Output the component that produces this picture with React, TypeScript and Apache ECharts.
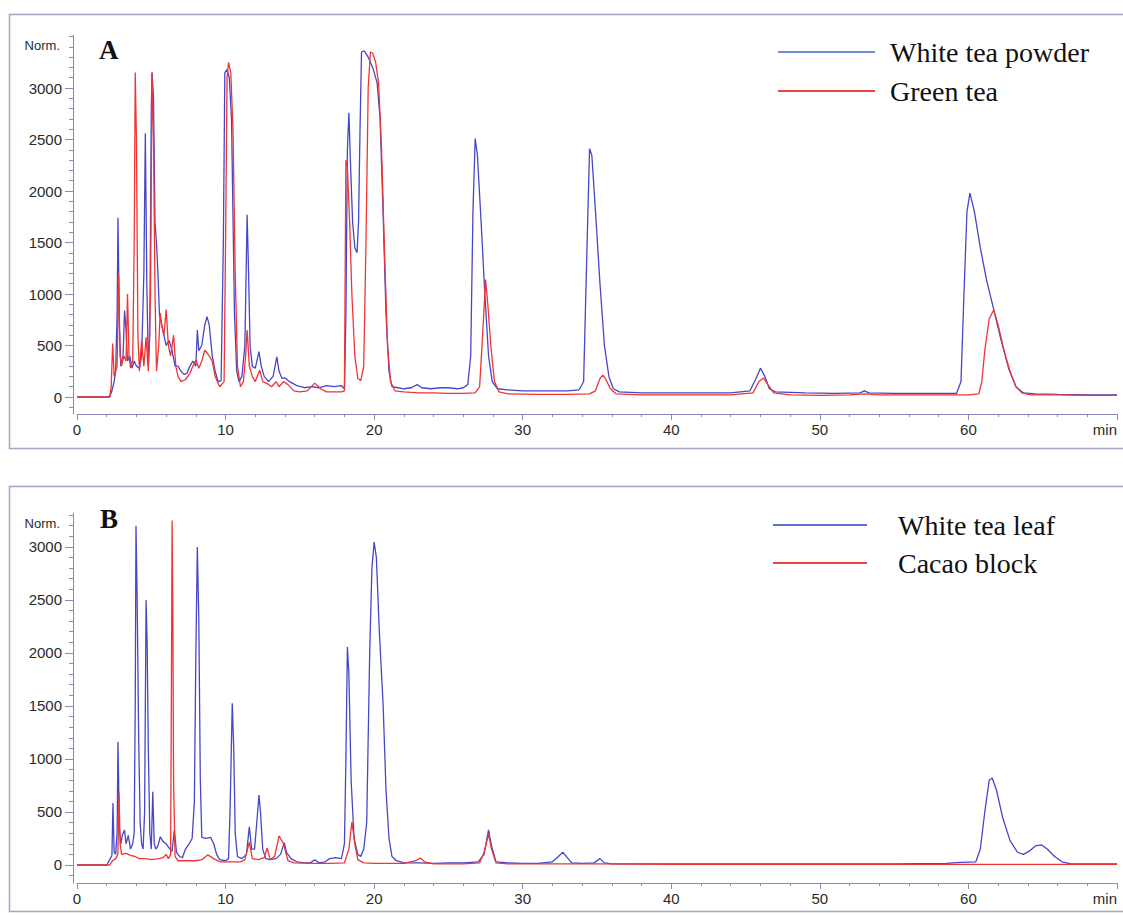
import React, { useEffect, useRef } from "react";
import * as echarts from "echarts";

// Retention time (min) / normalised detector response pairs for each trace.
const whiteTeaPowder: [number, number][] = [
  [0, 0], [2.2, 0], [2.35, 60], [2.5, 150], [2.6, 250], [2.7, 800], [2.76, 1740], [2.85, 700], [2.95, 300],
  [3.1, 400], [3.2, 840], [3.3, 650], [3.4, 350], [3.55, 400], [3.7, 280], [3.85, 350], [4.0, 300], [4.2, 280],
  [4.35, 400], [4.5, 1200], [4.6, 2560], [4.7, 1100], [4.8, 300], [4.9, 600], [5.0, 2800], [5.05, 3150],
  [5.15, 2900], [5.25, 1700], [5.35, 1500], [5.45, 1200], [5.55, 800], [5.7, 700], [5.85, 600], [6.0, 500],
  [6.2, 550], [6.4, 450], [6.6, 300], [6.8, 300], [7.0, 250], [7.2, 220], [7.4, 230], [7.6, 300], [7.8, 350],
  [8.0, 300], [8.1, 650], [8.2, 450], [8.4, 500], [8.6, 700], [8.75, 780], [8.9, 700], [9.1, 400], [9.3, 250],
  [9.5, 150], [9.7, 160], [9.85, 1500], [9.95, 3150], [10.1, 3180], [10.25, 3100], [10.4, 2700], [10.6, 800],
  [10.75, 250], [10.9, 150], [11.1, 200], [11.3, 500], [11.45, 1770], [11.55, 1200], [11.65, 500], [11.8, 300],
  [12.0, 280], [12.25, 440], [12.4, 300], [12.6, 200], [12.9, 150], [13.2, 200], [13.45, 390], [13.6, 250],
  [13.8, 180], [14.0, 185], [14.3, 150], [14.8, 110], [15.3, 90], [15.8, 100], [16.3, 90], [16.8, 110],
  [17.3, 100], [17.8, 110], [18.0, 80], [18.1, 800], [18.2, 2400], [18.3, 2760], [18.4, 2300], [18.55, 1700],
  [18.7, 1450], [18.85, 1400], [18.95, 1700], [19.05, 2600], [19.15, 3350], [19.35, 3360], [19.6, 3300],
  [19.9, 3200], [20.2, 3050], [20.4, 2700], [20.6, 1800], [20.8, 800], [21.0, 250], [21.2, 100], [21.6, 90],
  [22.0, 80], [22.5, 90], [22.9, 120], [23.2, 90], [23.8, 80], [24.5, 90], [25.0, 90], [25.6, 80], [26.0, 90],
  [26.3, 120], [26.5, 400], [26.65, 1800], [26.8, 2510], [26.95, 2350], [27.2, 1700], [27.45, 1000],
  [27.7, 400], [27.95, 150], [28.3, 80], [29, 70], [30, 60], [31, 60], [32, 60], [33, 60], [33.8, 70],
  [34.1, 150], [34.3, 1300], [34.5, 2410], [34.65, 2350], [34.9, 1800], [35.2, 1100], [35.5, 500], [35.8, 200],
  [36.1, 80], [36.5, 50], [38, 40], [40, 40], [42, 40], [44, 40], [45.3, 60], [45.7, 180], [46.0, 280],
  [46.3, 200], [46.6, 80], [47, 50], [49, 40], [51, 35], [52.7, 40], [53, 60], [53.3, 40], [55, 35], [57, 35],
  [59.2, 35], [59.5, 150], [59.7, 1000], [59.9, 1800], [60.1, 1980], [60.4, 1800], [60.8, 1450], [61.2, 1150],
  [61.7, 850], [62.2, 550], [62.7, 280], [63.2, 100], [63.7, 40], [64.5, 30], [66, 25], [68, 20], [70, 20],
];

const greenTea: [number, number][] = [
  [0, 0], [2.2, 0], [2.3, 100], [2.4, 520], [2.5, 200], [2.6, 250], [2.7, 300], [2.8, 1200], [2.9, 400],
  [3.0, 300], [3.15, 400], [3.3, 350], [3.4, 1000], [3.5, 400], [3.6, 280], [3.75, 350], [3.85, 1500],
  [3.92, 3150], [4.0, 2500], [4.1, 600], [4.2, 250], [4.35, 550], [4.5, 300], [4.65, 580], [4.8, 250],
  [4.95, 1000], [5.05, 3150], [5.15, 2500], [5.25, 1000], [5.35, 250], [5.5, 500], [5.6, 815], [5.7, 700],
  [5.85, 600], [6.0, 850], [6.15, 500], [6.3, 400], [6.5, 600], [6.65, 300], [6.8, 200], [7.0, 150],
  [7.3, 170], [7.6, 230], [7.8, 300], [8.0, 360], [8.2, 280], [8.4, 350], [8.6, 455], [8.8, 420], [9.1, 350],
  [9.3, 200], [9.6, 100], [9.9, 150], [10.0, 1500], [10.1, 3100], [10.2, 3250], [10.35, 3150], [10.5, 2600],
  [10.65, 1200], [10.8, 300], [11.0, 100], [11.2, 150], [11.35, 400], [11.45, 650], [11.6, 300], [11.8, 200],
  [12.0, 150], [12.3, 260], [12.5, 150], [12.8, 130], [13.1, 100], [13.4, 150], [13.6, 100], [13.9, 150],
  [14.2, 120], [14.6, 60], [15.0, 50], [15.5, 60], [16.0, 135], [16.4, 80], [16.8, 50], [17.3, 50],
  [17.8, 50], [18.0, 60], [18.05, 1200], [18.1, 2300], [18.2, 2230], [18.35, 1700], [18.5, 1000], [18.7, 400],
  [18.9, 180], [19.1, 160], [19.3, 300], [19.45, 1500], [19.6, 3000], [19.75, 3350], [19.9, 3340],
  [20.1, 3250], [20.3, 3050], [20.5, 2400], [20.7, 1400], [20.9, 500], [21.1, 150], [21.4, 60], [22, 50],
  [23, 40], [24, 40], [25, 35], [26, 35], [26.8, 40], [27.1, 100], [27.3, 600], [27.5, 1140], [27.65, 900],
  [27.85, 500], [28.1, 150], [28.4, 50], [29, 30], [31, 25], [33, 25], [34.5, 30], [34.9, 60], [35.2, 180],
  [35.4, 213], [35.6, 170], [35.9, 80], [36.3, 30], [38, 20], [40, 20], [42, 20], [44, 20], [45.5, 40],
  [45.9, 150], [46.2, 185], [46.5, 120], [46.9, 40], [48, 20], [50, 15], [52, 20], [53, 30], [54, 20],
  [57, 20], [60, 20], [60.7, 30], [60.9, 150], [61.1, 450], [61.4, 760], [61.7, 845], [62.0, 700],
  [62.4, 450], [62.8, 250], [63.2, 100], [63.6, 40], [64.2, 20], [66, 20], [68, 15], [70, 15],
];

const whiteTeaLeaf: [number, number][] = [
  [0, 0], [2.0, 0], [2.2, 50], [2.35, 90], [2.42, 585], [2.5, 120], [2.6, 100], [2.7, 300], [2.76, 1160],
  [2.85, 350], [2.95, 200], [3.05, 280], [3.2, 330], [3.3, 200], [3.45, 280], [3.6, 150], [3.75, 200],
  [3.85, 300], [3.92, 1500], [3.97, 3200], [4.05, 2500], [4.15, 1200], [4.25, 400], [4.35, 200], [4.45, 150],
  [4.55, 500], [4.65, 2500], [4.72, 2100], [4.8, 1100], [4.9, 300], [5.0, 150], [5.1, 690], [5.2, 200],
  [5.3, 150], [5.45, 180], [5.6, 265], [5.8, 220], [6.0, 200], [6.2, 160], [6.4, 130], [6.55, 330],
  [6.7, 120], [6.9, 80], [7.1, 70], [7.3, 150], [7.55, 200], [7.75, 250], [7.9, 600], [8.0, 2000],
  [8.1, 3000], [8.2, 2300], [8.3, 800], [8.4, 260], [8.7, 250], [9.0, 260], [9.2, 200], [9.4, 100],
  [9.6, 50], [10.0, 40], [10.2, 60], [10.3, 500], [10.45, 1525], [10.55, 1100], [10.65, 300], [10.8, 80],
  [11.1, 60], [11.4, 100], [11.6, 360], [11.75, 150], [11.95, 150], [12.1, 400], [12.25, 660], [12.35, 500],
  [12.5, 150], [12.7, 60], [13.0, 50], [13.4, 60], [13.7, 100], [13.95, 210], [14.1, 120], [14.4, 60],
  [14.8, 30], [15.3, 20], [15.7, 20], [16.0, 50], [16.3, 20], [16.7, 30], [17.0, 60], [17.4, 70],
  [17.8, 60], [18.0, 200], [18.1, 1000], [18.2, 2055], [18.3, 1800], [18.45, 800], [18.65, 250], [18.9, 100],
  [19.1, 80], [19.3, 150], [19.5, 400], [19.7, 2000], [19.85, 2800], [20.0, 3045], [20.15, 2900],
  [20.35, 2200], [20.6, 1525], [20.8, 700], [21.0, 250], [21.2, 80], [21.5, 40], [22, 20], [23, 20],
  [24, 15], [25, 20], [26, 20], [27, 30], [27.4, 100], [27.7, 330], [27.9, 180], [28.2, 30], [29, 20],
  [30, 15], [31, 15], [32, 30], [32.4, 80], [32.7, 120], [33.0, 70], [33.3, 20], [34, 15], [34.8, 20],
  [35.2, 60], [35.5, 20], [36, 10], [40, 10], [45, 10], [50, 10], [55, 10], [58.5, 15], [59.5, 25],
  [60.5, 30], [60.8, 150], [61.1, 500], [61.4, 800], [61.6, 820], [61.9, 700], [62.3, 450], [62.8, 230],
  [63.3, 120], [63.7, 100], [64.1, 130], [64.5, 180], [64.9, 190], [65.3, 150], [65.8, 80], [66.3, 30],
  [66.9, 10], [68, 10], [70, 10],
];

const cacaoBlock: [number, number][] = [
  [0, 0], [2.2, 0], [2.4, 40], [2.6, 60], [2.75, 100], [2.83, 680], [2.9, 200], [3.0, 100], [3.3, 110],
  [3.6, 90], [3.9, 80], [4.2, 60], [4.6, 60], [5.0, 50], [5.5, 60], [5.8, 70], [6.0, 100], [6.15, 60],
  [6.3, 100], [6.35, 1500], [6.4, 3250], [6.45, 2400], [6.5, 800], [6.6, 80], [6.8, 40], [7.2, 40],
  [7.6, 40], [8.0, 40], [8.4, 50], [8.8, 95], [9.2, 60], [9.6, 30], [10.0, 30], [10.5, 30], [11.0, 30],
  [11.3, 50], [11.6, 215], [11.8, 60], [12.2, 50], [12.6, 70], [12.8, 160], [13.0, 50], [13.3, 80],
  [13.6, 275], [13.9, 200], [14.2, 40], [14.6, 20], [16, 15], [17, 15], [18.0, 20], [18.3, 150],
  [18.5, 405], [18.7, 200], [18.9, 50], [19.3, 20], [20, 15], [21, 15], [22, 15], [22.8, 40], [23.1, 65],
  [23.4, 30], [24, 10], [26, 10], [27.1, 20], [27.4, 120], [27.7, 290], [27.9, 150], [28.2, 20], [29, 10],
  [35, 10], [40, 5], [50, 5], [60, 5], [70, 5],
];

// Tick positions on the response axes.
const majorTicks = [0, 500, 1000, 1500, 2000, 2500, 3000];
const minorTicksA = [-100, 0, 100, 200, 300, 400, 500, 600, 700, 800, 900, 1000, 1100, 1200, 1300, 1400, 1500,
  1600, 1700, 1800, 1900, 2000, 2100, 2200, 2300, 2400, 2500, 2600, 2700, 2800, 2900, 3000, 3100, 3200, 3300, 3400, 3500];
const minorTicksB = [-100, 0, 100, 200, 300, 400, 500, 600, 700, 800, 900, 1000, 1100, 1200, 1300, 1400, 1500,
  1600, 1700, 1800, 1900, 2000, 2100, 2200, 2300, 2400, 2500, 2600, 2700, 2800, 2900, 3000, 3100, 3200, 3300];

const BLUE = "#4646c8";
const RED = "#f03434";
const AXIS = "#8a8ab8";
const SANS = "Liberation Sans, Arial, sans-serif";
const SERIF = "Liberation Serif, Times New Roman, serif";
const PLOT_WIDTH = 1040; // width of each plotting area (grid left 77, right 6)

function xAxisFor(gridIndex: number) {
  return {
    type: "value",
    gridIndex,
    min: 0,
    max: 70,
    interval: 10,
    axisLine: { show: true, onZero: false, lineStyle: { color: AXIS, width: 1 } },
    axisTick: { show: true, length: 6, lineStyle: { color: AXIS } },
    minorTick: { show: true, splitNumber: 5, length: 3, lineStyle: { color: AXIS } },
    splitLine: { show: false },
    axisLabel: {
      fontFamily: SANS,
      fontSize: 15,
      color: "#2a2a2a",
      margin: 8,
      alignMaxLabel: "right",
      formatter: (v: number) => (v === 70 ? "min" : String(v)),
    },
  };
}

function yMain(gridIndex: number, min: number, max: number) {
  return {
    type: "value",
    gridIndex,
    min,
    max,
    position: "left",
    offset: 4,
    name: "Norm.",
    nameLocation: "end",
    nameGap: -10,
    nameTextStyle: { fontFamily: SANS, fontSize: 13, color: "#2a2a2a", align: "right", verticalAlign: "middle", padding: [0, 13, 0, 0] },
    axisLine: { show: true, onZero: false, lineStyle: { color: AXIS, width: 1 } },
    axisTick: { show: true, length: 8, customValues: majorTicks, lineStyle: { color: AXIS } },
    axisLabel: { fontFamily: SANS, fontSize: 15, color: "#2a2a2a", margin: 11, customValues: majorTicks, formatter: (v: number) => String(v) },
    splitLine: { show: false },
  };
}

// Companion axis carrying the short 100-unit ticks; it sits on the right slot of
// the grid and is shifted back onto the left axis line.
function yMinor(gridIndex: number, min: number, max: number, ticks: number[]) {
  return {
    type: "value",
    gridIndex,
    min,
    max,
    position: "right",
    offset: -(PLOT_WIDTH + 4),
    axisLine: { show: false, onZero: false },
    axisTick: { show: true, inside: true, length: 4, customValues: ticks, lineStyle: { color: AXIS } },
    axisLabel: { show: false },
    splitLine: { show: false },
  };
}

function trace(name: string, data: [number, number][], color: string, xi: number, yi: number) {
  return {
    name,
    type: "line",
    data,
    xAxisIndex: xi,
    yAxisIndex: yi,
    showSymbol: false,
    symbol: "none",
    lineStyle: { color, width: 1.3 },
    itemStyle: { color },
  };
}

export default function App() {
  const ref = useRef<HTMLDivElement>(null);

  useEffect(() => {
    if (!ref.current) return;
    const chart = echarts.init(ref.current, null, { renderer: "svg" });
    chart.setOption({
      animation: false,
      backgroundColor: "#ffffff",
      title: [
        { text: "A", left: 94, top: 31, textStyle: { fontFamily: SERIF, fontSize: 27, fontWeight: "bold", color: "#111" } },
        { text: "B", left: 95, top: 500, textStyle: { fontFamily: SERIF, fontSize: 27, fontWeight: "bold", color: "#111" } },
      ],
      legend: [
        {
          data: [
            { name: "White tea powder", itemStyle: { color: "#6f8ee0" } },
            { name: "Green tea", itemStyle: { color: "#e84444" } },
          ],
          orient: "vertical",
          left: 773,
          top: 32,
          icon: "rect",
          itemWidth: 97,
          itemHeight: 2,
          itemGap: 9,
          textStyle: { fontFamily: SERIF, fontSize: 28, lineHeight: 30, color: "#111", padding: [0, 0, 0, 10] },
        },
        {
          data: [
            { name: "White tea leaf", itemStyle: { color: "#5a6fd8" } },
            { name: "Cacao block", itemStyle: { color: "#e84444" } },
          ],
          orient: "vertical",
          left: 768,
          top: 505,
          icon: "rect",
          itemWidth: 94,
          itemHeight: 2,
          itemGap: 8,
          textStyle: { fontFamily: SERIF, fontSize: 28, lineHeight: 30, color: "#111", padding: [0, 0, 0, 26] },
        },
      ],
      graphic: [
        { type: "rect", shape: { x: 9.5, y: 14.5, width: 1125, height: 434 }, style: { fill: "none", stroke: "#a4a4c8", lineWidth: 1.5 }, silent: true },
        { type: "rect", shape: { x: 9.5, y: 486.5, width: 1125, height: 425 }, style: { fill: "none", stroke: "#a4a4c8", lineWidth: 1.5 }, silent: true },
      ],
      grid: [
        { left: 77, right: 6, top: 35, bottom: 501 },
        { left: 77, right: 6, top: 513, bottom: 32 },
      ],
      xAxis: [xAxisFor(0), xAxisFor(1)],
      yAxis: [
        yMain(0, -165, 3515),
        yMinor(0, -165, 3515, minorTicksA),
        yMain(1, -170, 3320),
        yMinor(1, -170, 3320, minorTicksB),
      ],
      series: [
        trace("White tea powder", whiteTeaPowder, BLUE, 0, 0),
        trace("Green tea", greenTea, RED, 0, 0),
        trace("White tea leaf", whiteTeaLeaf, BLUE, 1, 2),
        trace("Cacao block", cacaoBlock, RED, 1, 2),
      ],
    });
    return () => chart.dispose();
  }, []);

  return (
    <div
      ref={ref}
      style={{ position: "fixed", left: 0, top: 0, width: 1123, height: 915, background: "#fff" }}
    />
  );
}
